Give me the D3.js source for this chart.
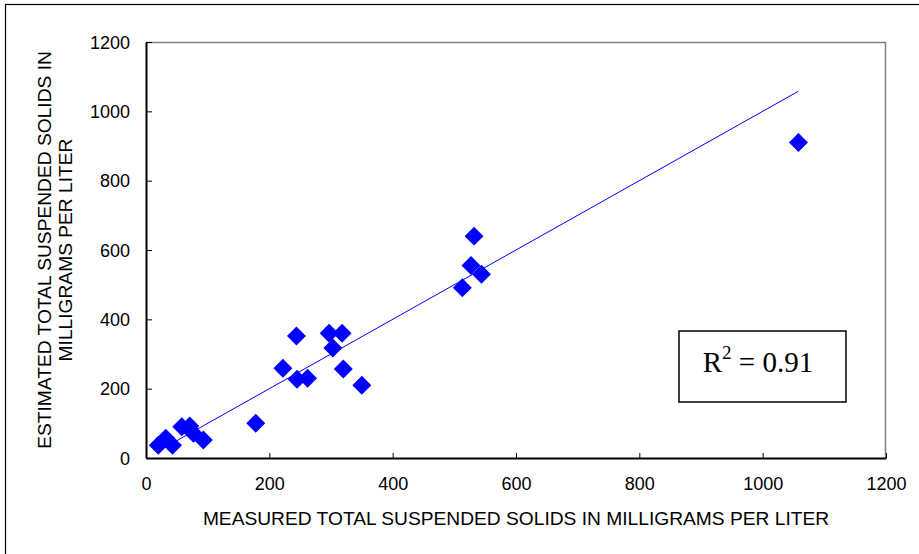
<!DOCTYPE html>
<html>
<head>
<meta charset="utf-8">
<script src="https://cdn.jsdelivr.net/npm/d3@7"></script>
<style>
  body { margin: 0; background: #fff; }
  text { font-family: "Liberation Sans", Arial, sans-serif; }
</style>
</head>
<body>
<svg width="919" height="554"></svg>
<script>
// measured vs estimated TSS (mg/L)
const measured = [20, 32, 43, 58, 71, 77, 93, 178, 222, 244, 245, 262, 297, 303, 318, 320, 350, 513, 527, 532, 544, 1058];
const estimated = [37, 57, 37, 90, 92, 71, 52, 100, 259, 352, 227, 230, 360, 317, 360, 257, 210, 491, 555, 640, 530, 910];
const xTicks = [0, 200, 400, 600, 800, 1000, 1200];
const yTicks = [0, 200, 400, 600, 800, 1000, 1200];
const xTitle = "MEASURED TOTAL SUSPENDED SOLIDS IN MILLIGRAMS PER LITER";
const yTitle = ["ESTIMATED TOTAL SUSPENDED SOLIDS IN", "MILLIGRAMS PER LITER"];
const r2Label = "0.91";

const data = measured.map((m, i) => ({ x: m, y: estimated[i] }));

const svg = d3.select("svg");
const pLeft = 146, pRight = 886, pTop = 42, pBottom = 458;

// outer chart frame (runs off the right and bottom edges)
svg.append("rect")
  .attr("x", 5.5).attr("y", 4.5)
  .attr("width", 940).attr("height", 600)
  .attr("fill", "none").attr("stroke", "#000").attr("stroke-width", 1.2);

const x = d3.scaleLinear().domain([0, 1200]).range([pLeft, pRight]);
const y = d3.scaleLinear().domain([0, 1200]).range([pBottom, pTop]);

// plot area border, gray on top and right
svg.append("path")
  .attr("d", `M${pLeft},${pTop + 0.5}H${pRight - 0.5}V${pBottom}`)
  .attr("fill", "none").attr("stroke", "#808080").attr("stroke-width", 1.5);

const fmt = d3.format("d");
const xAxis = svg.append("g")
  .attr("transform", `translate(0,${pBottom})`)
  .call(d3.axisBottom(x).tickValues(xTicks).tickFormat(fmt).tickSizeInner(-5).tickSizeOuter(0).tickPadding(19));
const yAxis = svg.append("g")
  .attr("transform", `translate(${pLeft},0)`)
  .call(d3.axisLeft(y).tickValues(yTicks).tickFormat(fmt).tickSizeInner(-6).tickSizeOuter(0).tickPadding(16));

[xAxis, yAxis].forEach(g => {
  g.select(".domain").attr("stroke", "#000").attr("stroke-width", 2);
  g.selectAll(".tick line").attr("stroke", "#000").attr("stroke-width", 1);
  g.selectAll(".tick text").attr("font-size", 18).attr("fill", "#000")
    .style("font-family", "'Liberation Sans', Arial, sans-serif");
});
xAxis.selectAll(".tick text").attr("dy", "0.71em");
yAxis.selectAll(".tick text").attr("dy", "0.35em");

// 1:1 line over the range of measured values
const ext = d3.extent(measured);
svg.append("line")
  .attr("x1", x(ext[0])).attr("y1", y(ext[0]))
  .attr("x2", x(ext[1])).attr("y2", y(ext[1]))
  .attr("stroke", "#0000ff").attr("stroke-width", 1);

const diamond = d3.symbol().type(d3.symbolSquare).size(180);
svg.append("g").selectAll("path")
  .data(data)
  .join("path")
  .attr("d", diamond)
  .attr("transform", d => `translate(${x(d.x)},${y(d.y)}) rotate(45)`)
  .attr("fill", "#0000ff");

// axis titles
svg.append("text")
  .attr("x", (pLeft + pRight) / 2).attr("y", 525)
  .attr("text-anchor", "middle").attr("font-size", 19.2)
  .text(xTitle);
svg.append("g")
  .attr("transform", `translate(0,${(pTop + pBottom) / 2}) rotate(-90)`)
  .selectAll("text")
  .data(yTitle)
  .join("text")
  .attr("x", 0).attr("y", (d, i) => 51 + i * 21)
  .attr("text-anchor", "middle").attr("font-size", 19.2)
  .text(d => d);

// R squared box
const box = svg.append("g").attr("transform", "translate(679,331)");
box.append("rect")
  .attr("width", 167).attr("height", 71)
  .attr("fill", "#fff").attr("stroke", "#000").attr("stroke-width", 1.5);
const rt = box.append("text")
  .attr("x", 79).attr("y", 41)
  .attr("text-anchor", "middle")
  .style("font-family", "'Liberation Serif', 'Times New Roman', serif")
  .attr("font-size", 29);
rt.append("tspan").text("R");
rt.append("tspan").attr("dy", -13).attr("font-size", 19).text("2");
rt.append("tspan").attr("dy", 13).text(" = " + r2Label);
</script>
</body>
</html>
